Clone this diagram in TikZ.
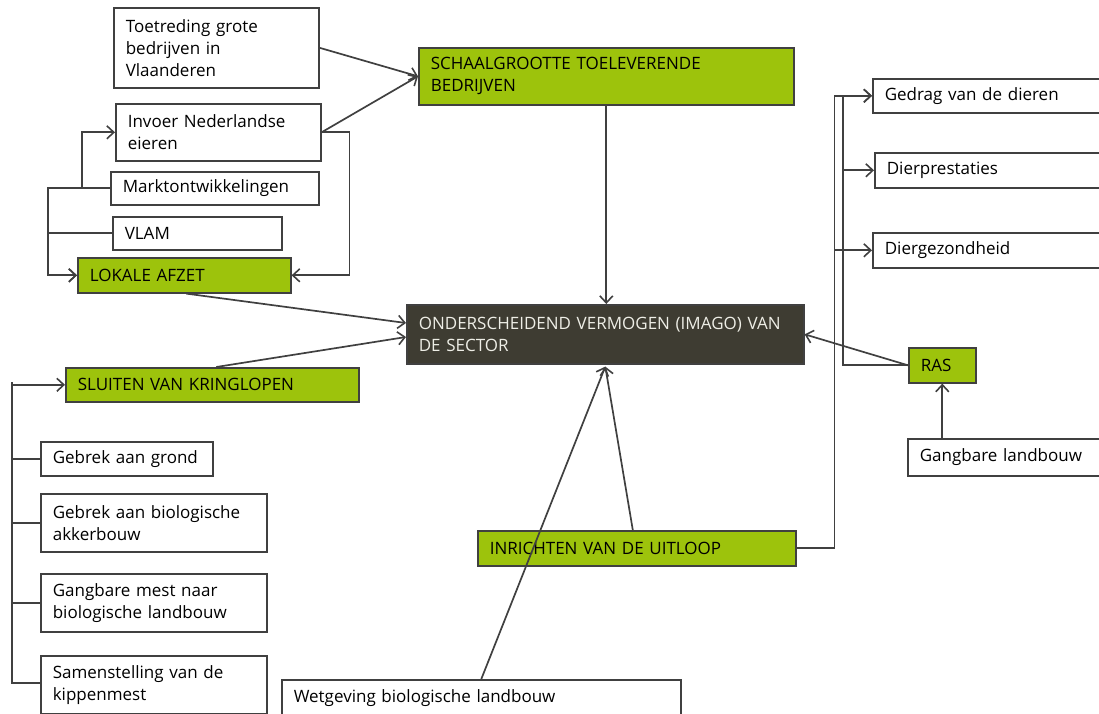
\documentclass[tikz,border=0pt]{standalone}
\usepackage{fontspec}
\setmainfont{Open Sans}
\usetikzlibrary{arrows.meta,calc}
\definecolor{leaf}{RGB}{157,195,12}
\definecolor{bark}{RGB}{62,60,50}
\definecolor{ink}{RGB}{64,64,64}
\definecolor{paper}{RGB}{238,238,230}
\begin{document}
\begin{tikzpicture}[x=1pt,y=-1pt,
  font=\fontsize{17}{22}\selectfont,
  card/.style={draw=ink, line width=1.6pt, fill=white, anchor=north west,
    inner xsep=12pt, inner ysep=0pt, align=left, text=black},
  hot/.style={card, fill=leaf},
  core/.style={card, fill=bark, text=paper},
  wh/.code 2 args={\pgfmathsetmacro\tw{#1-24}%
    \edef\tmp{\noexpand\tikzset{minimum width=#1pt, text width=\tw pt, minimum height=#2pt}}\tmp},
  arr/.style={draw=ink, line width=1.7pt, -{Straight Barb[length=7pt,width=13pt,line width=1.6pt]}},
  ln/.style={draw=ink, line width=1.7pt}]
\useasboundingbox (0,0) rectangle (1099,713);
\clip (0,0) rectangle (1099,713);

% upper left cluster
\node[card, wh={205}{80}] (toet) at (113,7) {Toetreding grote\\bedrijven in\\Vlaanderen};
\node[hot, wh={375}{57}] (schaal) at (418,47) {SCHAALGROOTTE TOELEVERENDE\\BEDRIJVEN};
\node[card, wh={205}{57}] (inv) at (115,103) {Invoer Nederlandse\\eieren};
\node[card, wh={208}{33}] (markt) at (110,171) {Marktontwikkelingen};
\node[card, wh={169}{33}] (vlam) at (112,216) {VLAM};
\node[hot, wh={213}{35}] (lok) at (77,257) {LOKALE AFZET};

% central node
\node[core, wh={397}{59}] (imago) at (406,304) {ONDERSCHEIDEND VERMOGEN (IMAGO) VAN\\DE SECTOR};

% lower left cluster
\node[hot, wh={293}{34}] (sluit) at (65,367) {SLUITEN VAN KRINGLOPEN};
\node[card, wh={172}{34}] (grond) at (40,441) {Gebrek aan grond};
\node[card, wh={226}{58}] (akker) at (40,493) {Gebrek aan biologische\\akkerbouw};
\node[card, wh={226}{58}] (mest) at (40,573) {Gangbare mest naar\\biologische landbouw};
\node[card, wh={226}{58}] (samen) at (40,655) {Samenstelling van de\\kippenmest};

% bottom centre
\node[card, wh={399}{36}] (wet) at (281,679) {Wetgeving biologische landbouw};
\node[hot, wh={318}{35}] (inr) at (477,530) {INRICHTEN VAN DE UITLOOP};

% right cluster
\node[card, wh={240}{34}] (gedrag) at (872,78) {Gedrag van de dieren};
\node[card, wh={238}{35}] (prest) at (874,152) {Dierprestaties};
\node[card, wh={240}{35}] (gez) at (872,232) {Diergezondheid};
\node[hot, wh={67}{35}] (ras) at (908,347) {RAS};
\node[card, wh={204}{37}] (gang) at (907,438) {Gangbare landbouw};

% connectors, upper left
\draw[arr] (toet.east) -- (schaal.west);
\draw[arr] (inv.east) -- (schaal.west);
\draw[arr] (inv.east) -- ++(28,0) |- (lok.east);
\draw[arr] (markt.west) -- ++(-28,0) |- (inv.west);
\draw[arr] (markt.west) -- ++(-62,0) |- (lok.west);
\draw[arr] (vlam.west) -- ++(-64,0) |- (lok.west);

% connectors into the central node
\draw[arr] (schaal.south) -- (schaal.south |- imago.north);
\draw[arr] ($(lok.south)+(2,0)$) -- ($(imago.north west)+(0,19)$);
\draw[arr] ($(sluit.north)+(4,0)$) -- ($(imago.north west)+(0,33)$);
\draw[arr] (wet.north) -- ($(imago.south)+(0,2)$);
\draw[arr] ($(inr.north)+(-4,0)$) -- ($(imago.south)+(0,2)$);
\draw[arr] (ras.west) -- (imago.east);

% lower left bus
\draw[arr] (grond.west) -- ++(-28,0) |- (sluit.west);
\draw[ln] (akker.west) -- ++(-28,0);
\draw[ln] (mest.west) -- ++(-28,0);
\draw[ln] ($(samen.north west)+(0,28)$) -- ++(-28,0) -- ++(0,-301);

% right buses
\draw[arr] (inr.east) -- ++(38,0) |- (gedrag.west);
\draw[arr] (inr.east) -- ++(38,0) |- (gez.west);
\draw[arr] (ras.west) -- ++(-65,0) |- (gedrag.west);
\draw[arr] (ras.west) -- ++(-65,0) |- (prest.west);
\draw[arr] (ras.south |- gang.north) -- (ras.south);
\end{tikzpicture}
\end{document}
